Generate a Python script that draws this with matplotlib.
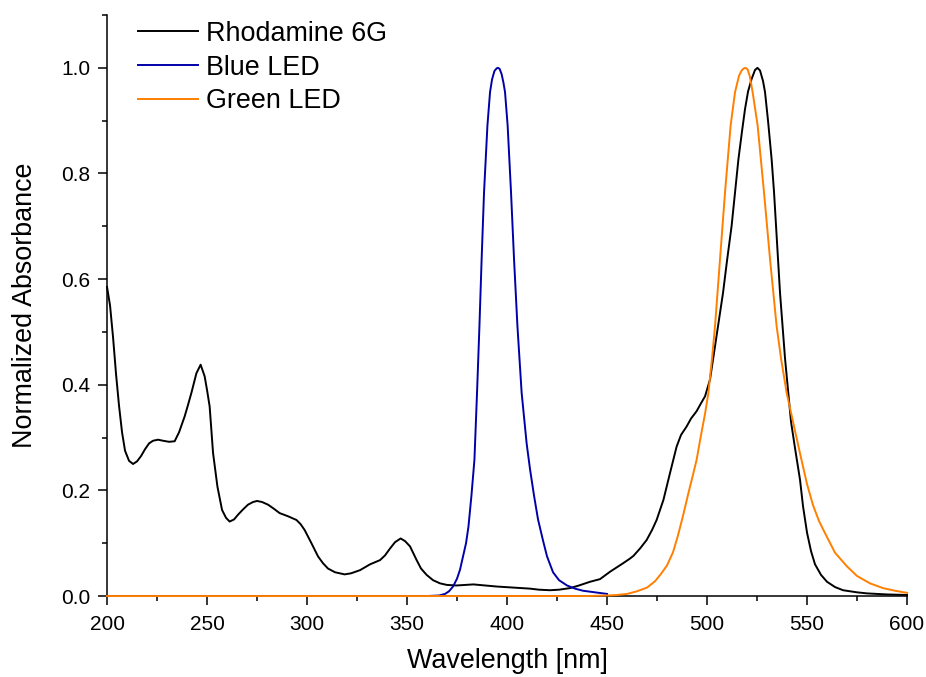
import matplotlib.pyplot as plt
from matplotlib.ticker import MultipleLocator

# Rhodamine 6G absorbance (normalized)
r6g_nm = [200, 201.5, 203, 204.5, 206, 207.5, 209, 211, 213, 215, 217, 219, 221,
          223, 225.5, 228, 231, 233.8, 236, 238.8, 240.5, 242.2, 244.7, 246.8,
          248.8, 250, 251.3, 253, 255.2, 257.5, 259.5, 261.3, 263.5, 265.5, 268,
          270.5, 273, 275, 277.5, 280.5, 283.5, 286.3, 290.5, 294.7, 296.8,
          298.8, 302.2, 305.5, 308, 310.5, 314, 318.8, 322, 326.5, 331.5, 336.5,
          339, 341.5, 344, 346.8, 349, 351.5, 354.8, 357, 359.8, 363, 366.5,
          370, 374.8, 379, 383.2, 389, 394.8, 403, 411.5, 416, 421.5, 426,
          431.5, 436, 441.5, 446.5, 451.5, 454.8, 458, 461.5, 463.2, 466.5,
          469.8, 472.5, 474.8, 478.2, 481.5, 484.8, 487, 489.8, 492, 494.8,
          497, 499, 501.5, 503, 505.5, 508, 510, 512.3, 514, 515.7, 517.5, 519,
          520.5, 522.3, 524, 525.2, 526.5, 528, 529, 530.5, 532.3, 533.5, 534.5,
          535.5, 536.5, 537.8, 539, 540.5, 542, 544, 546.5, 548, 550, 552, 554,
          557, 560, 564, 568, 575, 580, 585, 590, 600]
r6g_abs = [0.585, 0.55, 0.49, 0.42, 0.36, 0.31, 0.275, 0.256, 0.25, 0.255, 0.265,
           0.278, 0.289, 0.294, 0.296, 0.294, 0.292, 0.293, 0.31, 0.34, 0.362,
           0.385, 0.422, 0.438, 0.416, 0.39, 0.359, 0.271, 0.207, 0.163, 0.148,
           0.141, 0.145, 0.154, 0.164, 0.173, 0.178, 0.18, 0.178, 0.173, 0.165,
           0.157, 0.151, 0.144, 0.136, 0.125, 0.1, 0.075, 0.062, 0.052, 0.045,
           0.041, 0.043, 0.049, 0.06, 0.068, 0.077, 0.09, 0.102, 0.109, 0.104,
           0.094, 0.068, 0.052, 0.04, 0.03, 0.024, 0.021, 0.02, 0.021, 0.022,
           0.02, 0.018, 0.016, 0.014, 0.012, 0.011, 0.012, 0.015, 0.02, 0.027,
           0.032, 0.046, 0.054, 0.062, 0.071, 0.076, 0.09, 0.106, 0.125, 0.144,
           0.182, 0.233, 0.283, 0.305, 0.321, 0.336, 0.35, 0.365, 0.378, 0.41,
           0.448, 0.51, 0.574, 0.635, 0.701, 0.765, 0.827, 0.88, 0.922, 0.955,
           0.979, 0.996, 1.0, 0.995, 0.975, 0.954, 0.9, 0.827, 0.765, 0.701,
           0.64, 0.574, 0.51, 0.45, 0.39, 0.33, 0.28, 0.22, 0.17, 0.12, 0.085,
           0.06, 0.04, 0.027, 0.017, 0.011, 0.007, 0.005, 0.004, 0.003, 0.002]

# Blue LED emission (normalized)
blue_nm = [200, 360, 366, 369, 371, 373, 375, 376.5, 378, 379.5, 380.7, 382.2,
           383.7, 385, 386.2, 387.3, 388.5, 390.2, 391.5, 392.5, 393.7, 394.8,
           395.5, 396.3, 397.3, 398.2, 399, 400.3, 402, 403.5, 405.2, 407.3, 409.8,
           411.5, 413.5, 415.5, 418, 420, 423, 426, 430, 434, 438, 444, 450]
blue_em = [0, 0, 0.001, 0.004, 0.009, 0.018, 0.033, 0.05, 0.075, 0.1, 0.131,
           0.19, 0.258, 0.385, 0.511, 0.638, 0.764, 0.891, 0.954, 0.978, 0.994,
           0.999, 1.0, 0.998, 0.988, 0.972, 0.954, 0.891, 0.764, 0.638, 0.511,
           0.385, 0.289, 0.24, 0.19, 0.145, 0.105, 0.075, 0.045, 0.03, 0.02,
           0.014, 0.01, 0.007, 0.004]

# Green LED emission (normalized)
green_nm = [200, 440, 450, 455, 460, 465, 470, 474, 477, 480, 483, 485.5, 488,
            490.7, 493, 494.8, 497, 499, 500.7, 502.5, 504, 506.5, 509, 511.8,
            514, 516, 517.3, 518.4, 519.3, 520.3, 521.4, 522.8, 525.3, 528.5,
            531.5, 534.8, 537, 539.8, 543, 546.5, 550, 553, 556, 559, 564, 570,
            575, 581.5, 588, 594, 600]
green_em = [0, 0, 0.001, 0.002, 0.004, 0.009, 0.016, 0.028, 0.042, 0.058, 0.083,
            0.115, 0.152, 0.195, 0.23, 0.258, 0.305, 0.345, 0.385, 0.45, 0.511,
            0.638, 0.764, 0.891, 0.954, 0.985, 0.995, 0.999, 1.0, 0.997, 0.984,
            0.954, 0.891, 0.764, 0.638, 0.511, 0.45, 0.385, 0.33, 0.27, 0.212,
            0.172, 0.142, 0.119, 0.082, 0.056, 0.038, 0.024, 0.015, 0.01, 0.006]

plt.rcParams['font.family'] = ['Liberation Sans', 'DejaVu Sans']

fig = plt.figure(figsize=(9.26, 6.77), dpi=100)
ax = fig.add_axes([0.1156, 0.1196, 0.8639, 0.8582])

ax.plot(r6g_nm, r6g_abs, color='black', lw=1.4, label='Rhodamine 6G', zorder=3, clip_on=False)
ax.plot(blue_nm, blue_em, color='#0000a8', lw=1.4, label='Blue LED', zorder=3, clip_on=False)
ax.plot(green_nm, green_em, color='#ff7f00', lw=1.4, label='Green LED', zorder=3, clip_on=False)

ax.set_xlim(200, 600)
ax.set_ylim(0, 1.1)
ax.xaxis.set_major_locator(MultipleLocator(50))
ax.xaxis.set_minor_locator(MultipleLocator(25))
ax.yaxis.set_major_locator(MultipleLocator(0.2))
ax.yaxis.set_minor_locator(MultipleLocator(0.1))
ax.yaxis.set_major_formatter(plt.FormatStrFormatter('%.1f'))

ax.spines['top'].set_visible(False)
ax.spines['right'].set_visible(False)
for s in ['left', 'bottom']:
    ax.spines[s].set_linewidth(1.1)
ax.tick_params(which='major', direction='out', length=6.5, width=1.1, labelsize=15)
ax.tick_params(which='minor', direction='out', length=3.3, width=1.1)
ax.tick_params(axis='y', which='major', pad=5.5)
ax.tick_params(axis='x', which='major', pad=7)

ax.set_xlabel('Wavelength [nm]', fontsize=19.4, labelpad=10.5)
ax.set_ylabel('Normalized Absorbance', fontsize=19.4, labelpad=17)

ax.legend(loc='upper left', bbox_to_anchor=(0.039, 0.99), frameon=False, fontsize=19.4,
          handlelength=2.2, handletextpad=0.3, labelspacing=0.29, borderpad=0,
          borderaxespad=0)

fig.savefig('out.png', dpi=100)
